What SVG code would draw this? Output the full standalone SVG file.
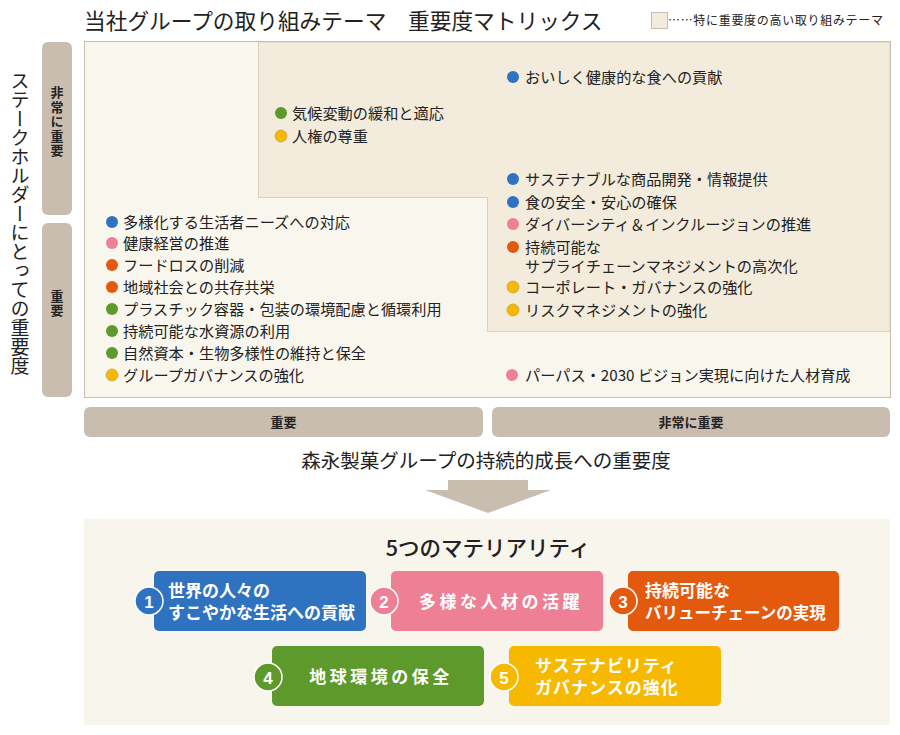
<svg xmlns="http://www.w3.org/2000/svg" width="900" height="735" viewBox="0 0 900 735">
<style>
text{font-family:"Noto Sans CJK JP","Noto Sans",sans-serif;fill:#222}
.it{font-size:15.2px}
.ax{font-size:13px;font-weight:bold;text-anchor:middle}
.pill{fill:#c9bdb0}
.vt{writing-mode:vertical-rl;text-anchor:middle}
.mt{fill:#fff;font-weight:bold;font-size:17px}
.num{fill:#fff;font-weight:bold;font-size:17px;text-anchor:middle;font-family:"Liberation Sans",sans-serif}
.ring{stroke:#fff;stroke-width:1.5}
.b{fill:#2f72c0}.p{fill:#ee8095}.o{fill:#e35a0e}.g{fill:#5e9a2b}.y{fill:#f6b900;stroke:#c9a24a;stroke-width:0.8}
</style>
<rect width="900" height="735" fill="#fff"/>
<text x="84" y="29" font-size="21.7">当社グループの取り組みテーマ　重要度マトリックス</text>
<g id="legend">
<rect x="651.5" y="12.5" width="16" height="16" fill="#f3ebdc" stroke="#c9bdb0"/>
<text x="668" y="25" font-size="12" textLength="215" lengthAdjust="spacing">……特に重要度の高い取り組みテーマ</text>
</g>
<g id="matrix">
<rect x="84.5" y="41.5" width="806" height="356" fill="#f9f6ee" stroke="#c9bdb0"/>
<path d="M258.5 42 H890 V331.5 H487.5 V197.5 H258.5 Z" fill="#f3ebdc" stroke="#ddd0bc"/>
<rect x="84.5" y="41.5" width="806" height="356" fill="none" stroke="#c9bdb0"/>
</g>
<g id="yaxis">
<text x="20" y="223" font-size="19" class="vt">ステークホルダーにとっての重要度</text>
<rect class="pill" x="42" y="42" width="30" height="173" rx="6"/>
<text class="ax vt" x="57" y="122" font-size="12.5" letter-spacing="1.5">非常に重要</text>
<rect class="pill" x="42" y="223" width="30" height="174" rx="6"/>
<text class="ax vt" x="57" y="304" font-size="12.5" letter-spacing="1.5">重要</text>
</g>
<g id="xaxis">
<rect class="pill" x="84" y="407" width="399" height="30" rx="6"/>
<text class="ax" x="283.5" y="427">重要</text>
<rect class="pill" x="492" y="407" width="398" height="30" rx="6"/>
<text class="ax" x="691" y="427">非常に重要</text>
<text x="486" y="468" font-size="19.5" text-anchor="middle">森永製菓グループの持続的成長への重要度</text>
</g>
<g id="connectors">
<polygon points="448,480 528,480 528,490 551,490 488,513 425,490 448,490" fill="#c9bdb0"/>
</g>
<g id="items-left">
<circle class="b" cx="112" cy="222" r="6"/><text class="it" x="123" y="227.5">多様化する生活者ニーズへの対応</text>
<circle class="p" cx="112" cy="243" r="6"/><text class="it" x="123" y="248.5">健康経営の推進</text>
<circle class="o" cx="112" cy="265" r="6"/><text class="it" x="123" y="270.5">フードロスの削減</text>
<circle class="o" cx="112" cy="287" r="6"/><text class="it" x="123" y="292.5">地域社会との共存共栄</text>
<circle class="g" cx="112" cy="309" r="6"/><text class="it" x="123" y="314.5">プラスチック容器・包装の環境配慮と循環利用</text>
<circle class="g" cx="112" cy="331" r="6"/><text class="it" x="123" y="336.5">持続可能な水資源の利用</text>
<circle class="g" cx="112" cy="353" r="6"/><text class="it" x="123" y="358.5">自然資本・生物多様性の維持と保全</text>
<circle class="y" cx="112" cy="375" r="6"/><text class="it" x="123" y="380.5">グループガバナンスの強化</text>
</g>
<g id="items-mid">
<circle class="g" cx="281" cy="113" r="6"/><text class="it" x="292" y="118.5">気候変動の緩和と適応</text>
<circle class="y" cx="281" cy="136" r="6"/><text class="it" x="292" y="141.5">人権の尊重</text>
</g>
<g id="items-right">
<circle class="b" cx="513" cy="77" r="6"/><text class="it" x="525" y="82.5">おいしく健康的な食への貢献</text>
<circle class="b" cx="513" cy="179" r="6"/><text class="it" x="525" y="184.5">サステナブルな商品開発・情報提供</text>
<circle class="b" cx="513" cy="202" r="6"/><text class="it" x="525" y="207.5">食の安全・安心の確保</text>
<circle class="p" cx="513" cy="224" r="6"/><text class="it" x="525" y="229.5">ダイバーシティ＆インクルージョンの推進</text>
<circle class="o" cx="513" cy="247" r="6"/><text class="it" x="525" y="252.5">持続可能な<tspan x="525" y="271.5">サプライチェーンマネジメントの高次化</tspan></text>
<circle class="y" cx="513" cy="287" r="6"/><text class="it" x="525" y="292.5">コーポレート・ガバナンスの強化</text>
<circle class="y" cx="513" cy="310" r="6"/><text class="it" x="525" y="315.5">リスクマネジメントの強化</text>
<circle class="p" cx="512" cy="375" r="6"/><text class="it" x="525" y="380.5">パーパス・2030 ビジョン実現に向けた人材育成</text>
</g>
<g id="materiality">
<rect x="84" y="519" width="806" height="206" fill="#f8f5ec"/>
<text x="488" y="556" font-size="21.5" text-anchor="middle" font-weight="500">5つのマテリアリティ</text>
</g>
<g id="m1">
<rect class="b" x="154" y="571" width="212" height="60" rx="5"/>
<circle class="b ring" cx="149" cy="601" r="14"/><text class="num" x="149" y="607.5">1</text>
<text class="mt" x="168" y="597">世界の人々の<tspan x="168" y="619">すこやかな生活への貢献</tspan></text>
</g>
<g id="m2">
<rect class="p" x="391" y="571" width="212" height="60" rx="5"/>
<circle class="p ring" cx="384" cy="601" r="14"/><text class="num" x="384" y="607.5">2</text>
<text class="mt" x="501" y="608" text-anchor="middle" letter-spacing="3.5">多様な人材の活躍</text>
</g>
<g id="m3">
<rect class="o" x="628" y="571" width="211" height="60" rx="5"/>
<circle class="o ring" cx="623" cy="601" r="14"/><text class="num" x="623" y="607.5">3</text>
<text class="mt" x="645" y="597">持続可能な<tspan x="645" y="619" font-size="16.5">バリューチェーンの実現</tspan></text>
</g>
<g id="m4">
<rect class="g" x="272" y="646" width="212" height="60" rx="5"/>
<circle class="g ring" cx="268" cy="677" r="14"/><text class="num" x="268" y="683.5">4</text>
<text class="mt" x="381" y="683" text-anchor="middle" letter-spacing="3.5">地球環境の保全</text>
</g>
<g id="m5">
<rect x="509" y="646" width="212" height="60" rx="5" fill="#f6b900"/>
<circle cx="504" cy="677" r="14" fill="#f6b900" class="ring"/><text class="num" x="504" y="683.5">5</text>
<text class="mt" x="535" y="672" letter-spacing="1">サステナビリティ<tspan x="535" y="694">ガバナンスの強化</tspan></text>
</g>
</svg>
